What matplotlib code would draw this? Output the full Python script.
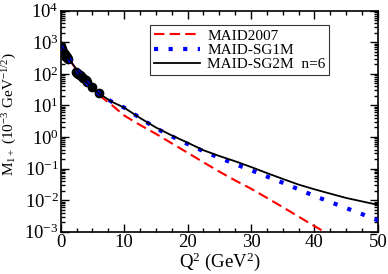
import matplotlib
matplotlib.use("Agg")
import matplotlib.pyplot as plt
from matplotlib.ticker import MultipleLocator, LogLocator, LogFormatterMathtext, NullFormatter

plt.rcParams['font.family'] = 'Liberation Serif'
plt.rcParams['mathtext.fontset'] = 'custom'
plt.rcParams['mathtext.rm'] = 'Liberation Serif'
plt.rcParams['mathtext.it'] = 'Liberation Serif:italic'
plt.rcParams['mathtext.bf'] = 'Liberation Serif:bold'

# curves: Q^2 (GeV^2) and M1+ (10^-3 GeV^-1/2)
q2_curve = [0, 0.5, 1, 1.5, 2, 3, 4, 5, 6, 8, 10, 12.5, 15, 17.5, 20, 22.5, 25, 27.5, 30,
            32.5, 35, 37.5, 40, 42.5, 45, 47.5, 50]
sg2m = [741, 525, 380, 263, 190, 100, 56, 35.5, 24, 13.2, 8.5, 4.0, 2.0, 1.12, 0.66, 0.38,
        0.25, 0.17, 0.112, 0.072, 0.047, 0.031, 0.022, 0.016, 0.0117, 0.0091, 0.0071]
sg1m = [741, 525, 380, 263, 190, 100, 56, 35.5, 24, 13.2, 8.5, 4.0, 1.9, 1.05, 0.60, 0.355,
        0.22, 0.138, 0.089, 0.056, 0.0355, 0.022, 0.0135, 0.0087, 0.0056, 0.0036, 0.0023]
q2_maid = [0, 0.5, 1, 1.5, 2, 3, 4, 5, 6, 8, 10, 12.5, 15, 17.5, 20, 22.5, 25, 27.5, 30,
           32.5, 35, 37.5, 40, 42]
maid2007 = [741, 525, 372, 263, 186, 100, 55, 33, 21.4, 10.5, 4.8, 2.4, 1.26, 0.63, 0.316,
            0.158, 0.08, 0.042, 0.023, 0.0118, 0.006, 0.003, 0.0015, 0.00089]

# data points
q2_data = [0.0, 0.06, 0.1, 0.16, 0.2, 0.4, 0.6, 0.9, 1.0, 1.2, 2.4, 2.6, 2.8, 3.0, 3.2, 3.5,
           4.0, 4.2, 5.0, 6.0]
m_data = [740, 680, 640, 600, 560, 500, 440, 350, 330, 300, 115, 105, 98, 90, 85, 75,
          62, 55, 38, 24.5]

fig = plt.figure(figsize=(3.88, 2.74), dpi=100)
ax = fig.add_axes([0.1565, 0.1544, 0.8175, 0.8066])

ax.plot(q2_maid, maid2007, color='red', lw=1.5, dashes=(5, 2.5), label='MAID2007', zorder=2)
ax.plot(q2_data, m_data, 'o', color='black', mec='black', ms=6, zorder=3)
ax.plot(q2_curve, sg1m, color='blue', lw=3, dashes=(1, 2.5), label='MAID-SG1M', zorder=4)
ax.plot(q2_curve, sg2m, color='black', lw=1.3, label='MAID-SG2M  n=6', zorder=5)

ax.set_yscale('log')
ax.set_xlim(0, 50)
ax.set_ylim(1e-3, 1e4)
ax.xaxis.set_major_locator(MultipleLocator(10))
ax.xaxis.set_minor_locator(MultipleLocator(2.5))
ax.yaxis.set_major_locator(LogLocator(base=10, numticks=20))
ax.yaxis.set_minor_locator(LogLocator(base=10, subs=range(2, 10), numticks=20))
ax.yaxis.set_major_formatter(LogFormatterMathtext())
ax.yaxis.set_minor_formatter(NullFormatter())

ax.tick_params(which='both', direction='in', top=True, right=True, labelsize=13.5, width=1)
ax.tick_params(which='major', length=6, pad=1.5)
ax.tick_params(which='minor', length=3)
for s in ax.spines.values():
    s.set_linewidth(1.2)

ax.set_xlabel(r'Q$^2$ (GeV$^2$)', fontsize=13.5, labelpad=0)
ax.set_ylabel(r'M$_{1+}$ (10$^{-3}$ GeV$^{-1/2}$)', fontsize=11, labelpad=0)
ax.yaxis.set_label_coords(-0.13, 0.53)

leg = ax.legend(loc='upper left', bbox_to_anchor=(0.281, 0.935), fontsize=11, frameon=True,
                fancybox=False, edgecolor='black', borderaxespad=0, handlelength=3.0,
                handletextpad=0.5, borderpad=0.25, labelspacing=0.05)
leg.get_frame().set_linewidth(0.8)

fig.savefig('out.png', dpi=100)
